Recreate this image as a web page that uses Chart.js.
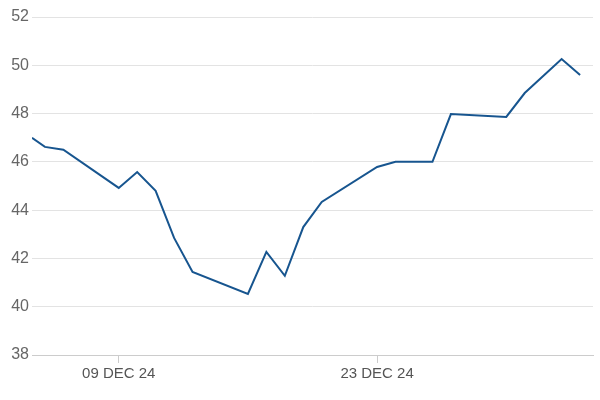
<!DOCTYPE html>
<html>
<head>
<meta charset="utf-8">
<script src="https://cdn.jsdelivr.net/npm/chart.js@4"></script>
<style>
  html, body { margin: 0; padding: 0; background: #fff; }
  #wrap { width: 600px; height: 400px; }
</style>
</head>
<body>
<div id="wrap"><canvas id="chart"></canvas></div>
<script>
// trading days as day-of-December (Jan 2 = 33, Jan 3 = 34)
const days = [4.3, 5, 6, 9, 10, 11, 12, 13, 16, 17, 18, 19, 20, 23, 24, 26, 27, 30, 31, 33, 34];
const prices = [47.0, 46.62, 46.5, 44.92, 45.58, 44.8, 42.85, 41.44, 40.53, 42.27, 41.28,
                43.3, 44.34, 45.79, 46.0, 46.0, 47.98, 47.86, 48.85, 50.26, 49.6];
const tickDays = [9, 23];
const tickLabels = ['09 DEC 24', '23 DEC 24'];

const points = days.map((d, i) => ({ x: d, y: prices[i] }));

new Chart(document.getElementById('chart'), {
  type: 'line',
  data: {
    datasets: [{
      data: points,
      borderColor: '#17558f',
      borderWidth: 2,
      pointRadius: 0,
      tension: 0,
      fill: false
    }]
  },
  options: {
    responsive: true,
    maintainAspectRatio: false,
    animation: false,
    layout: { padding: { left: 6, right: 7, top: 17, bottom: 0 } },
    plugins: { legend: { display: false }, tooltip: { enabled: false } },
    scales: {
      x: {
        type: 'linear',
        min: 4.3,
        max: 34.7,
        afterBuildTicks: (axis) => { axis.ticks = tickDays.map(v => ({ value: v })); },
        afterFit: (axis) => { axis.height = 45; },
        ticks: {
          autoSkip: false,
          maxRotation: 0,
          color: '#555',
          font: { family: 'Liberation Sans, Arial, sans-serif', size: 15 },
          padding: 2,
          callback: (v) => tickLabels[tickDays.indexOf(v)] || ''
        },
        grid: { drawOnChartArea: false, tickLength: 8, color: '#ccc' },
        border: { color: '#ccc' }
      },
      y: {
        min: 38,
        max: 52,
        afterFit: (axis) => { axis.width = 26; },
        ticks: {
          stepSize: 2,
          color: '#666',
          padding: 3,
          font: { family: 'Liberation Sans, Arial, sans-serif', size: 16 }
        },
        grid: { drawTicks: false, color: '#e3e3e3' },
        border: { display: false }
      }
    }
  }
});
</script>
</body>
</html>
